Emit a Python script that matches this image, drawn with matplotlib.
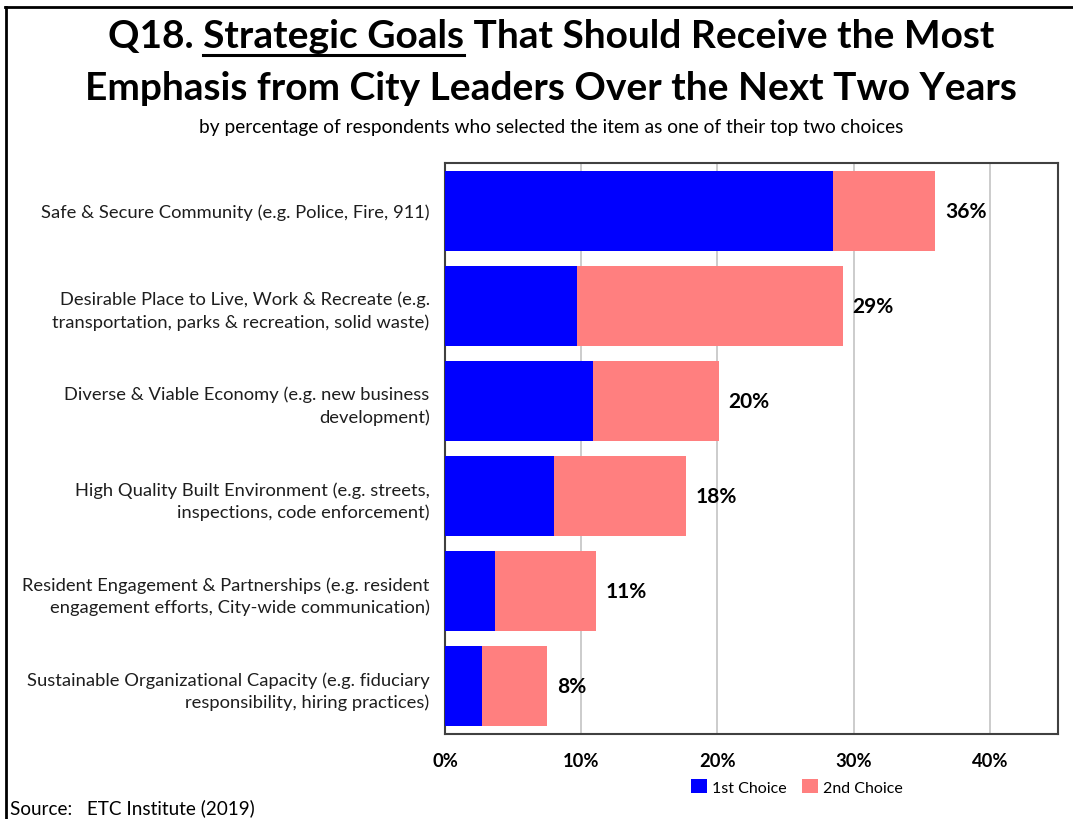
import matplotlib
matplotlib.use("Agg")
import matplotlib.pyplot as plt
from matplotlib.lines import Line2D
from matplotlib.patches import Patch

FONT = ["Lato", "DejaVu Sans"]
plt.rcParams["font.family"] = FONT

categories = [
    "Safe & Secure Community (e.g. Police, Fire, 911)",
    "Desirable Place to Live, Work & Recreate (e.g.\ntransportation, parks & recreation, solid waste)",
    "Diverse & Viable Economy (e.g. new business\ndevelopment)",
    "High Quality Built Environment (e.g. streets,\ninspections, code enforcement)",
    "Resident Engagement & Partnerships (e.g. resident\nengagement efforts, City-wide communication)",
    "Sustainable Organizational Capacity (e.g. fiduciary\nresponsibility, hiring practices)",
]
first_choice = [28.5, 9.7, 10.9, 8.0, 3.7, 2.7]
second_choice = [7.5, 19.5, 9.2, 9.7, 7.4, 4.8]
totals = [36, 29, 20, 18, 11, 8]
x_ticks = [0, 10, 20, 30, 40]
x_tick_labels = ["0%", "10%", "20%", "30%", "40%"]
series_names = ["1st Choice", "2nd Choice"]

BLUE = "#0000FF"
PINK = "#FF7F7F"

W, H = 1073, 820
fig = plt.figure(figsize=(W / 100, H / 100), dpi=100)
ax = fig.add_axes([445 / W, 1 - 735 / H, (1058 - 445) / W, (735 - 164) / H])

ypos = list(range(len(categories)))
ax.barh(ypos, first_choice, height=0.84, color=BLUE, zorder=3)
ax.barh(ypos, second_choice, left=first_choice, height=0.84, color=PINK, zorder=3)

for y, f, s, t in zip(ypos, first_choice, second_choice, totals):
    ax.text(f + s + 0.7, y, f"{t}%", va="center", ha="left",
            fontsize=15, fontweight="bold", color="black", zorder=4)

ax.set_ylim(len(categories) - 0.5, -0.5)
ax.set_xlim(0, 45)
ax.set_yticks(ypos)
ax.set_yticklabels(categories, fontsize=13.2, color="#1E1E1E", linespacing=1.42)
ax.set_xticks(x_ticks)
ax.set_xticklabels(x_tick_labels, fontsize=13.2, fontweight="bold")
ax.tick_params(axis="both", length=0)
ax.tick_params(axis="y", pad=11)
ax.tick_params(axis="x", pad=13)
ax.xaxis.grid(True, color="#C8C8C8", linewidth=1.3, zorder=0)
ax.set_axisbelow(True)
for sp in ax.spines.values():
    sp.set_color("#404040")
    sp.set_linewidth(1.5)

# legend under the axis
handles = [Patch(facecolor=BLUE, edgecolor="none"), Patch(facecolor=PINK, edgecolor="none")]
fig.legend(handles, series_names, loc="center", bbox_to_anchor=(797 / W, 1 - 788 / H),
           ncol=2, frameon=False, fontsize=11.5, handlelength=1.0, handleheight=1.0,
           handletextpad=0.3, columnspacing=1.0, borderaxespad=0)

# title, with the key phrase underlined
line1_pre = "Q18. "
line1_key = "Strategic Goals"
line1_post = " That Should Receive the Most"
line1 = line1_pre + line1_key + line1_post
tsize = 28
tx = 551 / W
t1 = fig.text(tx, 1 - 37 / H, line1, ha="center", va="center",
              fontsize=tsize, fontweight="bold")
fig.text(tx, 1 - 88 / H, "Emphasis from City Leaders Over the Next Two Years",
         ha="center", va="center", fontsize=tsize, fontweight="bold")

renderer = fig.canvas.get_renderer()
full_bb = t1.get_window_extent(renderer)
tmp = fig.text(0, 0, line1_pre, fontsize=tsize, fontweight="bold")
pre_w = tmp.get_window_extent(renderer).width
tmp.set_text(line1_pre + line1_key)
key_end = tmp.get_window_extent(renderer).width
tmp.remove()
x0 = (full_bb.x0 + pre_w) / W
x1 = (full_bb.x0 + key_end) / W
uy = full_bb.y0 / H - 0.002
fig.add_artist(Line2D([x0, x1], [uy, uy], transform=fig.transFigure,
                      color="black", linewidth=2.2))

fig.text(tx, 1 - 128 / H,
         "by percentage of respondents who selected the item as one of their top two choices",
         ha="center", va="center", fontsize=13.8)

fig.text(10 / W, 1 - 808 / H, "Source:   ETC Institute (2019)", ha="left", va="center",
         fontsize=13.6)

# outer frame edges
fig.add_artist(Line2D([5 / W, 1], [1 - 8 / H, 1 - 8 / H], transform=fig.transFigure,
                      color="black", linewidth=2))
fig.add_artist(Line2D([6 / W, 6 / W], [0, 1 - 8 / H], transform=fig.transFigure,
                      color="black", linewidth=2))

fig.savefig("out.png", dpi=100, facecolor="white")
